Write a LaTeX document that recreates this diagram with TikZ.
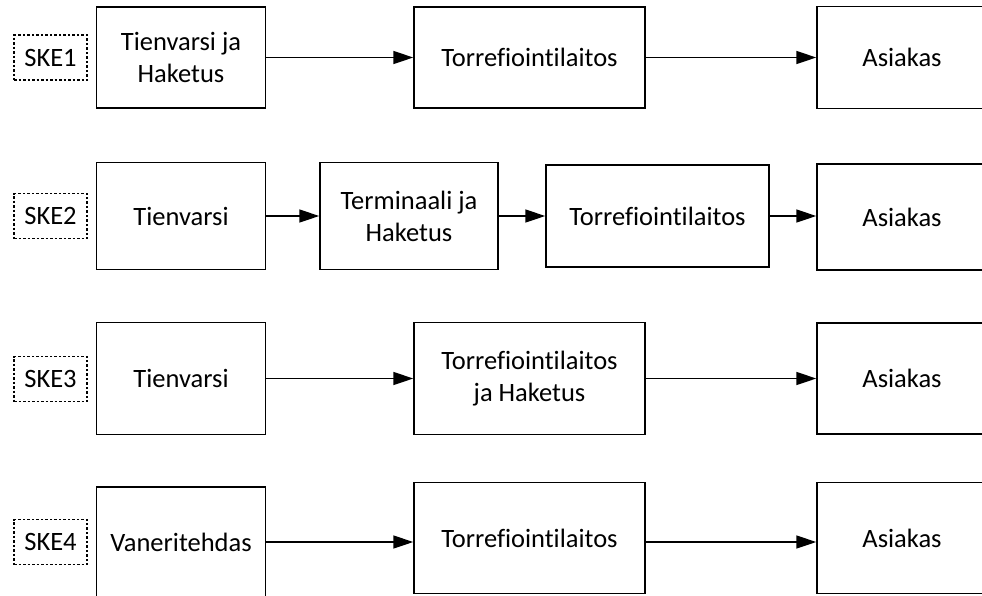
\documentclass[tikz,border=0pt]{standalone}
\usepackage{fontspec}
\setmainfont[Ligatures=CommonOff]{Carlito}
\usetikzlibrary{arrows.meta}
\begin{document}
\begin{tikzpicture}[x=1pt, y=-1pt, >={Triangle[length=20pt,width=13pt]},
  box/.style={draw, line width=1.5pt, align=center, inner sep=0pt, font=\fontsize{26.5}{32}\selectfont},
  ske/.style={draw, line width=1.2pt, dash pattern=on 2.5pt off 2pt, minimum width=73pt, minimum height=45pt, inner sep=0pt, font=\fontsize{26.5}{32}\selectfont},
  flow/.style={->, line width=1.5pt}]
\path[use as bounding box] (0,0) rectangle (982,595);
\clip (0,0) rectangle (982,595);
% SKE1
\node[ske] (ske1) at (50.5,57.5) {SKE1};
\node[box, minimum width=169pt, minimum height=101pt] (r1a) at (181,57.5) {Tienvarsi ja\\Haketus};
\node[box, minimum width=231pt, minimum height=101pt] (r1b) at (529.5,57.5) {Torrefiointilaitos};
\node[box, minimum width=170pt, minimum height=102pt] (r1c) at (902,57.5) {Asiakas};
\draw[flow] (r1a.east) -- (r1b.west);
\draw[flow] (r1b.east) -- (r1c.west);
% SKE2
\node[ske] (ske2) at (50.5,216) {SKE2};
\node[box, minimum width=169pt, minimum height=107pt] (r2a) at (181,216) {Tienvarsi};
\node[box, minimum width=178pt, minimum height=107pt] (r2b) at (409,216) {Terminaali ja\\Haketus};
\node[box, minimum width=223pt, minimum height=102pt] (r2c) at (657.5,216) {Torrefiointilaitos};
\node[box, minimum width=170pt, minimum height=106pt] (r2d) at (902,217) {Asiakas};
\draw[flow] (r2a.east) -- (r2b.west);
\draw[flow] (r2b.east) -- (r2c.west);
\draw[flow] (r2c.east) -- (r2c.east -| r2d.west);
% SKE3
\node[ske] (ske3) at (50.5,379) {SKE3};
\node[box, minimum width=169pt, minimum height=112pt] (r3a) at (181,378.5) {Tienvarsi};
\node[box, minimum width=231pt, minimum height=112pt] (r3b) at (529.5,378.5) {Torrefiointilaitos\\ja Haketus};
\node[box, minimum width=170pt, minimum height=111pt] (r3c) at (902,378.5) {Asiakas};
\draw[flow] (r3a.east) -- (r3b.west);
\draw[flow] (r3b.east) -- (r3c.west);
% SKE4
\node[ske] (ske4) at (50.5,542) {SKE4};
\node[box, minimum width=169pt, minimum height=110pt] (r4a) at (181,542) {Vaneritehdas};
\node[box, minimum width=231pt, minimum height=111pt] (r4b) at (529.5,538) {Torrefiointilaitos};
\node[box, minimum width=170pt, minimum height=111pt] (r4c) at (902,538) {Asiakas};
\draw[flow] (r4a.east) -- (r4a.east -| r4b.west);
\draw[flow] (r4a.east -| r4b.east) -- (r4a.east -| r4c.west);
\end{tikzpicture}
\end{document}
